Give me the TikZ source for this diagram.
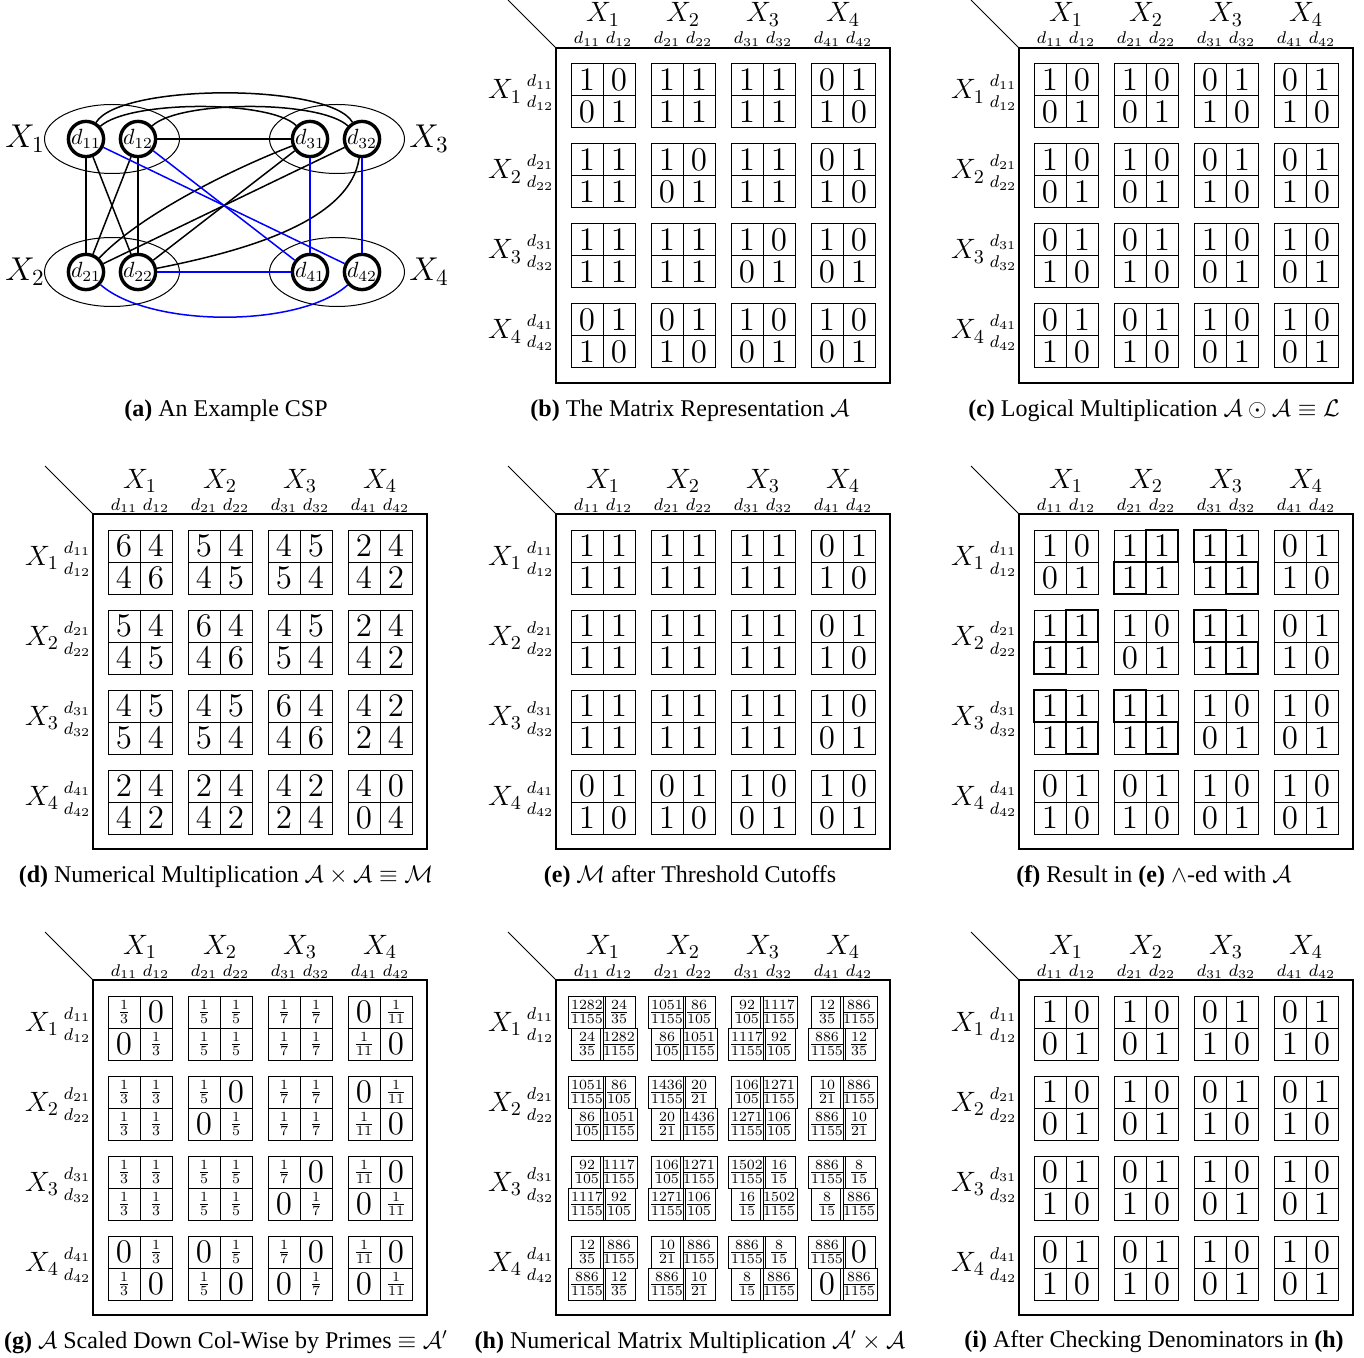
\RequirePackage{fix-cm}
\documentclass[tikz,border=0pt]{standalone}
\usepackage[no-math]{fontspec}
\setmainfont{Liberation Serif}
\usetikzlibrary{shapes.geometric}
\tikzset{
 mframe/.style={draw, line width=0.6pt, minimum width=167pt, minimum height=167.5pt, inner sep=0pt, outer sep=0pt, anchor=north west},
 cellbox/.style={draw, line width=0.5pt, minimum size=16pt, inner sep=0pt, outer sep=0pt, font=\fontsize{16.5}{16.5}\selectfont},
 hdrX/.style={inner sep=0pt, anchor=base, font=\fontsize{14}{14}\selectfont},
 dlab/.style={inner sep=0pt, anchor=base, font=\fontsize{8.5}{8.5}\selectfont},
 capt/.style={inner sep=0pt, font=\fontsize{12}{14}\selectfont},
 varell/.style={draw, ellipse, line width=0.5pt, minimum width=67.5pt, minimum height=34.5pt, inner sep=0pt},
 valnode/.style={draw, circle, line width=1.7pt, fill=white, minimum size=16pt, inner sep=0pt, font=\fontsize{11}{11}\selectfont},
 edge/.style={line width=0.75pt},
 bedge/.style={line width=0.75pt, blue},
 bigX/.style={inner sep=0pt, font=\fontsize{16.5}{16.5}\selectfont},
 hl/.style={draw, line width=1.3pt},
}
\newcommand\fr[2]{\mbox{\fontsize{10}{10}\selectfont$\frac{#1}{#2}$}}
\newcommand\matpanel[4]{%
  \node[mframe] (#1fr) at (#2,#3) {};
  \coordinate (#1diag) at ({#2-48},{#3-48});
  \draw[line width=0.5pt] (#1diag) -- (#1fr.north west);
  \foreach \j in {1,...,4}{
    \node[hdrX] (#1hx\j) at ({#2+47+80*(\j-1)},{#3-26}) {$X_{\j}$};
    \node[dlab] (#1hd\j-1) at ({#2+31+80*(\j-1)},{#3-4}) {$d_{\j1}$};
    \node[dlab] (#1hd\j-2) at ({#2+63+80*(\j-1)},{#3-4}) {$d_{\j2}$};
    \node[hdrX] (#1rx\j) at ({#2-51},{#3+51+80*(\j-1)}) {$X_{\j}$};
    \node[dlab] (#1rd\j-1) at ({#2-16},{#3+39+80*(\j-1)}) {$d_{\j1}$};
    \node[dlab] (#1rd\j-2) at ({#2-16},{#3+60+80*(\j-1)}) {$d_{\j2}$};
  }
  \foreach \row [count=\r] in {#4}{
    \foreach \v [count=\c] in \row {
      \pgfmathsetmacro\cx{#2+31+80*floor((\c-1)/2)+32*mod(\c-1,2)}
      \pgfmathsetmacro\cy{#3+32+80*floor((\r-1)/2)+32*mod(\r-1,2)}
      \node[cellbox] (#1-\r-\c) at (\cx,\cy) {$\v$};
    }
  }
}
\begin{document}
\begin{tikzpicture}[x=0.5pt,y=-0.5pt]
\useasboundingbox (0,0) rectangle (1364,1358);

% ---------- (a) ----------
\node[varell] (e1) at (112,139) {};
\node[varell] (e3) at (337,139) {};
\node[varell] (e2) at (112,272) {};
\node[varell] (e4) at (337,272) {};
\node[bigX] (lx1) at (25,139) {$X_1$};
\node[bigX] (lx3) at (429,139) {$X_3$};
\node[bigX] (lx2) at (25,272) {$X_2$};
\node[bigX] (lx4) at (429,272) {$X_4$};
\node[valnode] (d11) at (86,139) {$d_{11}$};
\node[valnode] (d12) at (138,139) {$d_{12}$};
\node[valnode] (d31) at (310,139) {$d_{31}$};
\node[valnode] (d32) at (362,139) {$d_{32}$};
\node[valnode] (d21) at (86,272) {$d_{21}$};
\node[valnode] (d22) at (138,272) {$d_{22}$};
\node[valnode] (d41) at (310,272) {$d_{41}$};
\node[valnode] (d42) at (362,272) {$d_{42}$};
\draw[edge] (d11) -- (d21);
\draw[edge] (d11) -- (d22);
\draw[edge] (d12) -- (d21);
\draw[edge] (d12) -- (d22);
\draw[edge] (d12) -- (d31);
\draw[edge] (d11) .. controls (120,83) and (330,83) .. (d32);
\draw[edge] (d11) .. controls (130,100) and (270,100) .. (d31);
\draw[edge] (d12) .. controls (180,100) and (320,100) .. (d32);
\draw[edge] (d21) .. controls (140,215) and (230,170) .. (d31);
\draw[edge] (d21) -- (d32);
\draw[edge] (d22) -- (d31);
\draw[edge] (d22) .. controls (250,250) and (350,220) .. (d32);
\draw[bedge] (d11) -- (d42);
\draw[bedge] (d12) -- (d41);
\draw[bedge] (d31) -- (d41);
\draw[bedge] (d32) -- (d42);
\draw[bedge] (d22) -- (d41);
\draw[bedge] (d21) .. controls (150,328) and (300,328) .. (d42);
\node[capt] (capa) at (226,411) {\textbf{(a)} An Example CSP};

% ---------- (b) ----------
\matpanel{b}{556}{48}{{1,0,1,1,1,1,0,1},{0,1,1,1,1,1,1,0},{1,1,1,0,1,1,0,1},{1,1,0,1,1,1,1,0},{1,1,1,1,1,0,1,0},{1,1,1,1,0,1,0,1},{0,1,0,1,1,0,1,0},{1,0,1,0,0,1,0,1}}
\node[capt] (capb) at (690,411) {\textbf{(b)} The Matrix Representation $\mathcal{A}$};

% ---------- (c) ----------
\matpanel{c}{1019}{48}{{1,0,1,0,0,1,0,1},{0,1,0,1,1,0,1,0},{1,0,1,0,0,1,0,1},{0,1,0,1,1,0,1,0},{0,1,0,1,1,0,1,0},{1,0,1,0,0,1,0,1},{0,1,0,1,1,0,1,0},{1,0,1,0,0,1,0,1}}
\node[capt] (capc) at (1154,411) {\textbf{(c)} Logical Multiplication $\mathcal{A}\odot\mathcal{A}\equiv\mathcal{L}$};

% ---------- (d) ----------
\matpanel{d}{93}{514}{{6,4,5,4,4,5,2,4},{4,6,4,5,5,4,4,2},{5,4,6,4,4,5,2,4},{4,5,4,6,5,4,4,2},{4,5,4,5,6,4,4,2},{5,4,5,4,4,6,2,4},{2,4,2,4,4,2,4,0},{4,2,4,2,2,4,0,4}}
\node[capt] (capd) at (226,877) {\textbf{(d)} Numerical Multiplication $\mathcal{A}\times\mathcal{A}\equiv\mathcal{M}$};

% ---------- (e) ----------
\matpanel{e}{556}{514}{{1,1,1,1,1,1,0,1},{1,1,1,1,1,1,1,0},{1,1,1,1,1,1,0,1},{1,1,1,1,1,1,1,0},{1,1,1,1,1,1,1,0},{1,1,1,1,1,1,0,1},{0,1,0,1,1,0,1,0},{1,0,1,0,0,1,0,1}}
\node[capt] (cape) at (690,877) {\textbf{(e)} $\mathcal{M}$ after Threshold Cutoffs};

% ---------- (f) ----------
\matpanel{f}{1019}{514}{{1,0,1,1,1,1,0,1},{0,1,1,1,1,1,1,0},{1,1,1,0,1,1,0,1},{1,1,0,1,1,1,1,0},{1,1,1,1,1,0,1,0},{1,1,1,1,0,1,0,1},{0,1,0,1,1,0,1,0},{1,0,1,0,0,1,0,1}}
\foreach \n in {1-4,2-3,1-5,2-6,3-2,4-1,3-5,4-6,5-1,6-2,5-3,6-4}
  \draw[hl] (f-\n.north west) rectangle (f-\n.south east);
\node[capt] (capf) at (1154,877) {\textbf{(f)} Result in \textbf{(e)} $\wedge$-ed with $\mathcal{A}$};

% ---------- (g) ----------
\matpanel{g}{93}{980}{{\fr13,0,\fr15,\fr15,\fr17,\fr17,0,\fr1{11}},{0,\fr13,\fr15,\fr15,\fr17,\fr17,\fr1{11},0},{\fr13,\fr13,\fr15,0,\fr17,\fr17,0,\fr1{11}},{\fr13,\fr13,0,\fr15,\fr17,\fr17,\fr1{11},0},{\fr13,\fr13,\fr15,\fr15,\fr17,0,\fr1{11},0},{\fr13,\fr13,\fr15,\fr15,0,\fr17,0,\fr1{11}},{0,\fr13,0,\fr15,\fr17,0,\fr1{11},0},{\fr13,0,\fr15,0,0,\fr17,0,\fr1{11}}}
\node[capt] (capg) at (226,1342) {\textbf{(g)} $\mathcal{A}$ Scaled Down Col-Wise by Primes $\equiv\mathcal{A}'$};

% ---------- (h) ----------
\matpanel{h}{556}{980}{{\fr{1282}{1155},\fr{24}{35},\fr{1051}{1155},\fr{86}{105},\fr{92}{105},\fr{1117}{1155},\fr{12}{35},\fr{886}{1155}},{\fr{24}{35},\fr{1282}{1155},\fr{86}{105},\fr{1051}{1155},\fr{1117}{1155},\fr{92}{105},\fr{886}{1155},\fr{12}{35}},{\fr{1051}{1155},\fr{86}{105},\fr{1436}{1155},\fr{20}{21},\fr{106}{105},\fr{1271}{1155},\fr{10}{21},\fr{886}{1155}},{\fr{86}{105},\fr{1051}{1155},\fr{20}{21},\fr{1436}{1155},\fr{1271}{1155},\fr{106}{105},\fr{886}{1155},\fr{10}{21}},{\fr{92}{105},\fr{1117}{1155},\fr{106}{105},\fr{1271}{1155},\fr{1502}{1155},\fr{16}{15},\fr{886}{1155},\fr{8}{15}},{\fr{1117}{1155},\fr{92}{105},\fr{1271}{1155},\fr{106}{105},\fr{16}{15},\fr{1502}{1155},\fr{8}{15},\fr{886}{1155}},{\fr{12}{35},\fr{886}{1155},\fr{10}{21},\fr{886}{1155},\fr{886}{1155},\fr{8}{15},\fr{886}{1155},0},{\fr{886}{1155},\fr{12}{35},\fr{886}{1155},\fr{10}{21},\fr{8}{15},\fr{886}{1155},0,\fr{886}{1155}}}
\node[capt] (caph) at (690,1342) {\textbf{(h)} Numerical Matrix Multiplication $\mathcal{A}'\times\mathcal{A}$};

% ---------- (i) ----------
\matpanel{i}{1019}{980}{{1,0,1,0,0,1,0,1},{0,1,0,1,1,0,1,0},{1,0,1,0,0,1,0,1},{0,1,0,1,1,0,1,0},{0,1,0,1,1,0,1,0},{1,0,1,0,0,1,0,1},{0,1,0,1,1,0,1,0},{1,0,1,0,0,1,0,1}}
\node[capt] (capi) at (1154,1342) {\textbf{(i)} After Checking Denominators in \textbf{(h)}};
\end{tikzpicture}
\end{document}
